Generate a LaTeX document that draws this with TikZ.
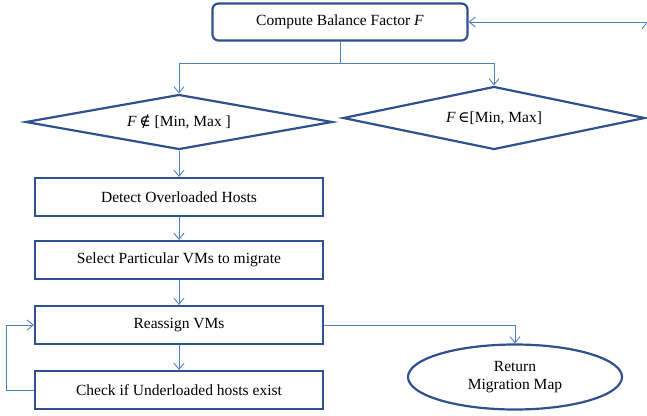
\documentclass[tikz,border=0pt]{standalone}
\usepackage{fontspec}
\setmainfont{Liberation Serif}
\newfontfamily\symfont{DejaVu Serif}
\usetikzlibrary{arrows.meta,shapes.geometric}

\definecolor{boxblue}{RGB}{47,82,143}
\definecolor{lineblue}{RGB}{79,129,189}

\begin{document}
\begin{tikzpicture}[x=1pt,y=-1pt,>={Straight Barb[length=6pt,width=10pt]},
    every node/.style={font=\fontsize{15.5}{18}\selectfont},
    stepbox/.style={draw=boxblue,line width=2.2pt,minimum width=288pt,minimum height=38pt,inner sep=0pt},
    decision/.style={diamond,draw=boxblue,line width=2.2pt,inner sep=0pt},
    flow/.style={draw=lineblue,line width=0.9pt}]
    \useasboundingbox (0,0) rectangle (647,415);

    \node[stepbox, rounded corners=6pt, minimum width=255pt, minimum height=37pt] (compute) at (340,22) {Compute Balance Factor \textit{F}};
    \node[decision, aspect=5.6, minimum width=307pt, minimum height=55pt] (out) at (179,122) {\textit{F}\,{\symfont ∉} [Min, Max ]};
    \node[decision, aspect=4.8, minimum width=302pt, minimum height=63pt] (in) at (494,118) {\textit{F}\,{\symfont ∈}[Min, Max]};
    \node[stepbox] (detect) at (179,197) {Detect Overloaded Hosts};
    \node[stepbox] (select) at (179,260) {Select Particular VMs to migrate};
    \node[stepbox] (reassign) at (179,325) {Reassign VMs};
    \node[stepbox] (check) at (179,390) {Check if Underloaded hosts exist};
    \node[ellipse, draw=boxblue, line width=2.2pt, minimum width=214pt, minimum height=65pt, align=center] (ret) at (515,377) {Return\\Migration Map};

    \coordinate (entry) at (647,22);
    \coordinate (split) at (340,63);

    \path[flow,->] (entry) edge (compute);
    \draw[flow] (compute) -- (split);
    \draw[flow,->] (split) -| (out.north);
    \draw[flow,->] (split) -| (in.north);
    \draw[flow,->] (out) -- (detect);
    \draw[flow,->] (detect) -- (select);
    \draw[flow,->] (select) -- (reassign);
    \draw[flow,->] (reassign) -- (check);
    \draw[flow,->] (check.west) -- ++(-27,0) |- (reassign.west);
    \draw[flow,->] (reassign) -| (ret);
\end{tikzpicture}
\end{document}
